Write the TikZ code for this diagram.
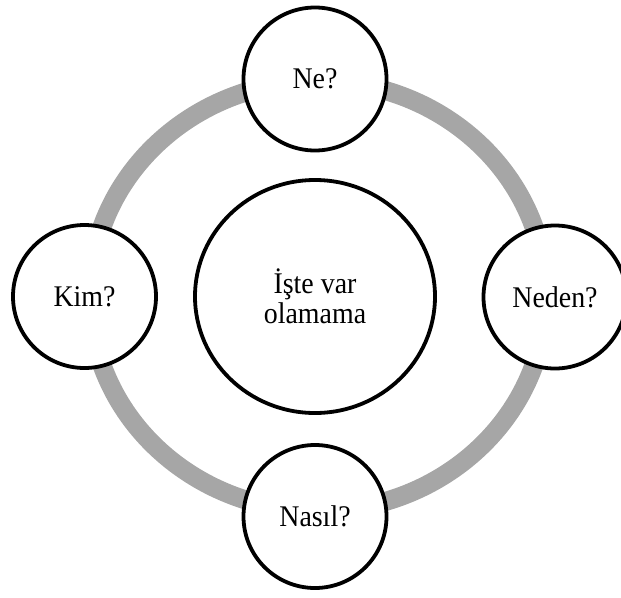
\documentclass[tikz,border=0pt]{standalone}
\usepackage{fontspec}
\setmainfont[FakeStretch=0.93]{Liberation Serif}
\usetikzlibrary{shapes.geometric}
\definecolor{ringgray}{HTML}{A6A6A6}
\tikzset{
  ringline/.style={draw=ringgray, line width=19pt},
  qcircle/.style={circle, draw=black, line width=3.8pt, fill=white, minimum size=143pt, inner sep=0pt,
    font=\fontsize{30}{30}\selectfont, align=center},
  corebox/.style={ellipse, draw=black, line width=3.8pt, fill=white, minimum width=240pt, minimum height=233pt,
    inner sep=0pt, font=\fontsize{30}{30}\selectfont, align=center}
}
\begin{document}
\begin{tikzpicture}[x=1pt, y=-1pt]
\useasboundingbox (0,0) rectangle (621,597);
\clip (0,0) rectangle (621,597);
\coordinate (ringc) at (318,296);
\draw[ringline] (ringc) ellipse [x radius=228pt, y radius=215pt];
\node[corebox] (core) at (315,296.5) {İşte var\\olamama};
\node[qcircle] (ne) at (315,79) {Ne?};
\node[qcircle] (kim) at (84.5,296.5) {Kim?};
\node[qcircle] (neden) at (555,297) {Neden?};
\node[qcircle] (nasil) at (315,516.5) {Nasıl?};
\end{tikzpicture}
\end{document}
